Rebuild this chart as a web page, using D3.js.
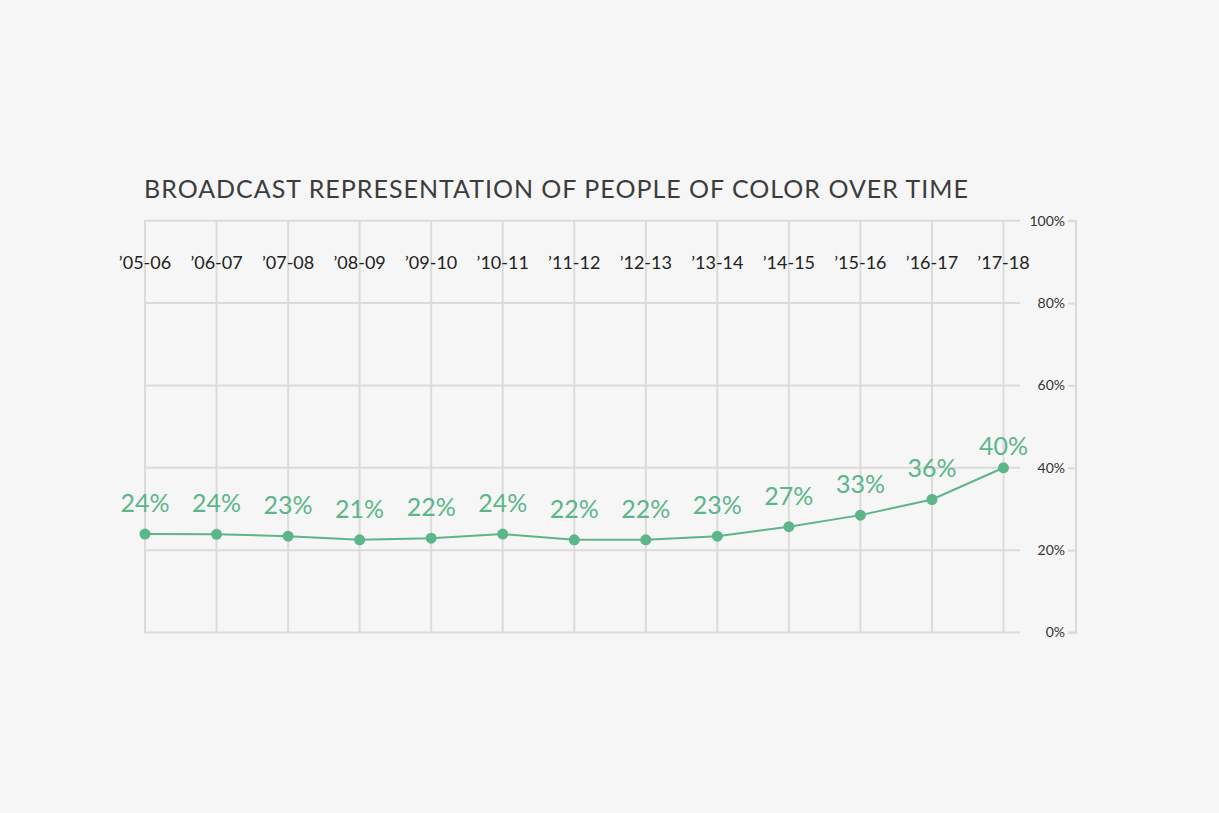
<!DOCTYPE html>
<html>
<head>
<meta charset="utf-8">
<script src="https://cdn.jsdelivr.net/npm/d3@7"></script>
<style>
  html, body { margin: 0; padding: 0; background: #f6f6f6; }
  svg { display: block; }
  text { font-family: Lato, "Noto Sans", sans-serif; }
</style>
</head>
<body>
<svg id="chart" width="1219" height="813"></svg>
<script>
const seasons = ["’05-06","’06-07","’07-08","’08-09","’09-10","’10-11","’11-12","’12-13","’13-14","’14-15","’15-16","’16-17","’17-18"];
const plotted = [23.9, 23.85, 23.4, 22.5, 22.9, 23.9, 22.5, 22.5, 23.4, 25.7, 28.5, 32.3, 40.0];
const labels = ["24%","24%","23%","21%","22%","24%","22%","22%","23%","27%","33%","36%","40%"];
const yTicks = [0, 20, 40, 60, 80, 100];
const yTickLabels = ["0%","20%","40%","60%","80%","100%"];
const title = "BROADCAST REPRESENTATION OF PEOPLE OF COLOR OVER TIME";

const svg = d3.select("#chart");
const green = "#5db58a";
const grid = "#dcdbd8";

const x = d3.scalePoint().domain(seasons).range([145, 1003.5]);
const y = d3.scaleLinear().domain([0, 100]).range([632.5, 220.7]);

// title
svg.append("text")
  .attr("x", 144).attr("y", 198)
  .attr("font-size", 25)
  .attr("fill", "#3c3c3c")
  .attr("textLength", 824)
  .attr("lengthAdjust", "spacing")
  .text(title);

// horizontal gridlines
svg.append("g").selectAll("line").data(yTicks).join("line")
  .attr("x1", 144).attr("x2", 1020)
  .attr("y1", d => y(d)).attr("y2", d => y(d))
  .attr("stroke", grid).attr("stroke-width", 2);

// vertical gridlines
svg.append("g").selectAll("line").data(seasons).join("line")
  .attr("x1", d => x(d)).attr("x2", d => x(d))
  .attr("y1", y(100)).attr("y2", y(0))
  .attr("stroke", grid).attr("stroke-width", 2);

// right axis
const axis = d3.axisLeft(y).tickValues(yTicks)
  .tickFormat((d, i) => yTickLabels[i]).tickSize(8).tickPadding(3);
const ag = svg.append("g").attr("transform", "translate(1076,0)").call(axis);
ag.select(".domain").attr("stroke", grid).attr("stroke-width", 2).attr("d", `M-8,${y(100)}H0V${y(0)}H-8`);
ag.selectAll(".tick line").attr("stroke", grid).attr("stroke-width", 2);
ag.selectAll(".tick text").attr("font-size", 14).attr("fill", "#333")
  .attr("font-family", "Lato, 'Noto Sans', sans-serif");

// category labels
svg.append("g").selectAll("text").data(seasons).join("text")
  .attr("x", d => x(d)).attr("y", 269)
  .attr("text-anchor", "middle")
  .attr("font-size", 18)
  .attr("fill", "#222")
  .text(d => d);

// line
const line = d3.line().x((d, i) => x(seasons[i])).y(d => y(d));
svg.append("path").datum(plotted)
  .attr("d", line).attr("fill", "none")
  .attr("stroke", green).attr("stroke-width", 2);

// points
svg.append("g").selectAll("circle").data(plotted).join("circle")
  .attr("cx", (d, i) => x(seasons[i])).attr("cy", d => y(d))
  .attr("r", 5.5).attr("fill", green);

// value labels
svg.append("g").selectAll("text").data(plotted).join("text")
  .attr("x", (d, i) => x(seasons[i]))
  .attr("y", (d, i) => y(d) - (i === plotted.length - 1 ? 13 : 22))
  .attr("text-anchor", "middle")
  .attr("font-size", 25)
  .attr("fill", green)
  .text((d, i) => labels[i]);
</script>
</body>
</html>
